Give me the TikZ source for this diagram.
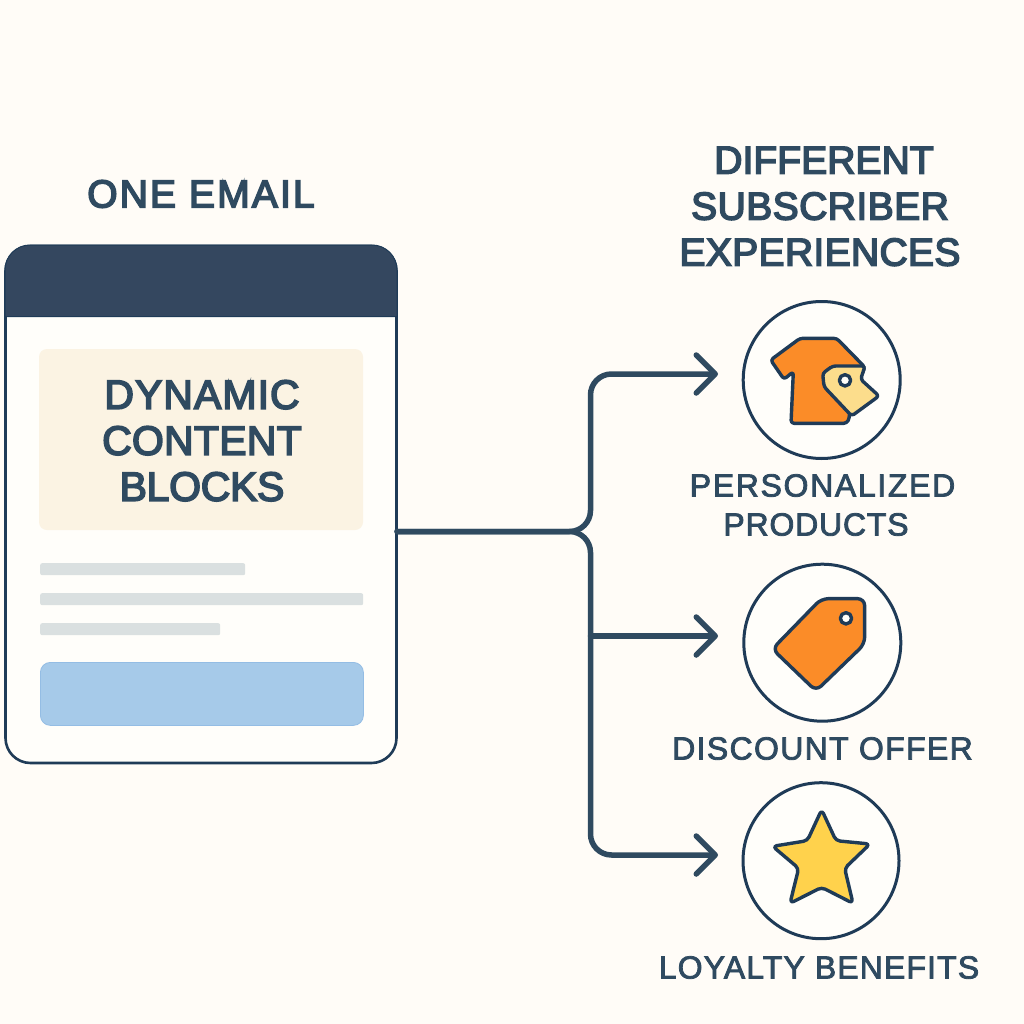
\documentclass[tikz,border=0pt]{standalone}
\usepackage{fontspec}
\usetikzlibrary{arrows.meta}
\setmainfont{Liberation Sans}
\newfontfamily\headfont[FakeBold=4]{Liberation Sans}
\newfontfamily\labelfont[FakeBold=2.5]{Liberation Sans}
\newcommand{\ls}[2]{{\addfontfeature{LetterSpace=#1}#2}}
\definecolor{bgc}{HTML}{FFFCF7}
\definecolor{cardc}{HTML}{FFFEFA}
\definecolor{headc}{HTML}{34475F}
\definecolor{linec}{HTML}{1F3B57}
\definecolor{wirec}{HTML}{2F4A60}
\definecolor{textc}{HTML}{2F4A60}
\definecolor{blockc}{HTML}{FBF3E3}
\definecolor{barc}{HTML}{DAE0E0}
\definecolor{ctac}{HTML}{A6CAE9}
\definecolor{ctaline}{HTML}{94BDE4}
\definecolor{orangec}{HTML}{FB8C28}
\definecolor{palec}{HTML}{FCDD8C}
\definecolor{starc}{HTML}{FFD24C}
\tikzset{
  heading/.style={inner sep=0pt,align=center,text=textc,font={\headfont\fontsize{39}{46}\selectfont}},
  blocktext/.style={inner sep=0pt,align=center,text=textc,font={\headfont\fontsize{41}{46}\selectfont}},
  caption/.style={inner sep=0pt,align=center,text=textc,font={\labelfont\fontsize{32}{39}\selectfont}},
  ring/.style={circle,draw=linec,line width=3pt,fill=cardc,minimum size=157pt,inner sep=0pt},
  wire/.style={draw=wirec,line width=5.5pt,rounded corners=21pt,line cap=round,-{Straight Barb[length=19pt,width=38pt,round]}},
  bar/.style={rectangle,draw=none,fill=barc,rounded corners=2pt,inner sep=0pt,anchor=north west},
  icon/.style={draw=linec,line width=3.4pt,line join=round},
}
\begin{document}
\begin{tikzpicture}[x=1pt,y=-1pt]
\useasboundingbox (0,0) rectangle (1024,1024);
\fill[bgc] (0,0) rectangle (1024,1024);
% email card
\node[rectangle,draw=linec,line width=2.6pt,fill=cardc,rounded corners=25pt,minimum width=391pt,minimum height=517pt,inner sep=0pt] (card) at (201,504.5) {};
\draw[linec,line width=1pt,fill=headc] (5,316.5) [rounded corners=25pt] -- (5,245) -- (397,245) [sharp corners] -- (397,316.5) -- cycle;
\node[rectangle,fill=blockc,rounded corners=8pt,minimum width=324pt,minimum height=181pt,inner sep=0pt] (block) at (201,439.5) {};
\node[blocktext] (blocklabel) at (202,440.7) {\ls{2.5}{DYNAMIC}\\\ls{0.6}{CONTENT}\\\ls{-0.8}{BLOCKS}};
\node[bar,minimum width=205pt,minimum height=12pt] (barA) at (40,563) {};
\node[bar,minimum width=323pt,minimum height=12pt] (barB) at (40,593) {};
\node[bar,minimum width=180pt,minimum height=12pt] (barC) at (40,623) {};
\node[rectangle,draw=ctaline,line width=0.8pt,fill=ctac,rounded corners=10pt,minimum width=323pt,minimum height=63pt,inner sep=0pt,anchor=north west] (cta) at (40,662) {};
% headings
\node[heading] (oneemail) at (201,194) {\ls{5.5}{ONE EMAIL}};
\node[heading] (different) at (820,206.4) {\hspace*{8pt}\ls{0.2}{DIFFERENT}\\\ls{1.2}{SUBSCRIBER}\\\ls{0.9}{EXPERIENCES}};
% circles
\node[ring] (circA) at (821.7,380) {};
\node[ring] (circB) at (822.3,642.7) {};
\node[ring,minimum size=156pt] (circC) at (821,860.7) {};
% captions
\node[caption] (capA) at (820,505) {\hspace*{5pt}\ls{5.2}{PERSONALIZED}\\\ls{2.5}{PRODUCTS}\hspace*{8pt}};
\node[caption] (capB) at (822.5,748.5) {\ls{4.2}{DISCOUNT OFFER}};
\node[caption] (capC) at (819,967.5) {\ls{3.5}{LOYALTY BENEFITS}};
% connectors
\coordinate (src) at (397,531.5);
\coordinate (forkA) at (590.5,374);
\coordinate (forkB) at (590.5,636);
\coordinate (forkC) at (590.5,855);
\coordinate (headA) at (718,374);
\coordinate (headB) at (718,636);
\coordinate (headC) at (718,855);
\draw[wire] (src) -| (forkA) -- (headA);
\draw[wire] (src) -| (forkC) -- (headC);
\draw[wire] (forkB) -- (headB);
% shirt + tag icon
\begin{scope}[shift={(730,290)},x=0.3333pt,y=-0.3333pt]
\draw[icon,fill=orangec,rounded corners=3pt] (210,145) -- (320,145) -- (405,232) -- (360,330) -- (358,385) -- (350,400) -- (183,400) -- (190,245) -- (162,268) -- (122,210) -- cycle;
\draw[icon,fill=palec,rounded corners=3pt] (405,228) -- (308,228) -- (278,250) -- (282,290) -- (365,378) -- (447,318) -- (392,268) -- cycle;
\draw[icon,fill=cardc] (345,271) circle[radius=17];
\end{scope}
% tag icon
\begin{scope}[shift={(730,555)},x=0.3333pt,y=-0.3333pt]
\draw[icon,fill=orangec,rounded corners=7pt] (274,131) -- (404,131) -- (404,267) -- (258,408) -- (127,282) -- cycle;
\draw[icon,fill=cardc] (348,190) circle[radius=17];
\end{scope}
% star icon
\begin{scope}[shift={(730,775)},x=0.3333pt,y=-0.3333pt]
\draw[icon,fill=starc,rounded corners=4pt] (275,104) -- (318,197) -- (420,207) -- (344,280) -- (369,385) -- (275,337) -- (180,385) -- (206,280) -- (128,214) -- (232,197) -- cycle;
\end{scope}
\end{tikzpicture}
\end{document}
